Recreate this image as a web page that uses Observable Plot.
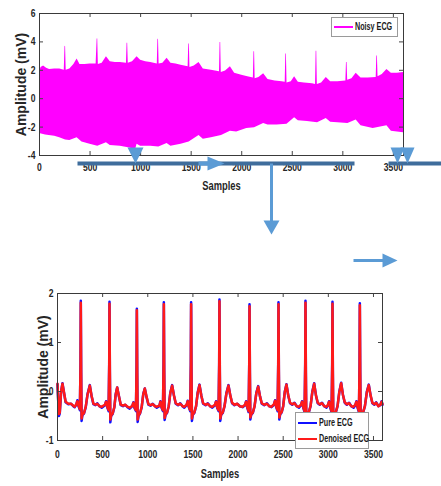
<!DOCTYPE html>
<html><head><meta charset="utf-8">
<script src="https://cdn.jsdelivr.net/npm/d3@7"></script>
<script src="https://cdn.jsdelivr.net/npm/@observablehq/plot@0.6"></script>
<style>
body{margin:0;background:#fff;}
#page{position:relative;width:441px;height:486px;overflow:hidden;background:#fff;}
#page svg{position:absolute;left:0;}
.lg{position:absolute;background:#fff;border:1px solid #9a9a9a;font:bold 10px 'Liberation Sans',Arial,sans-serif;color:#1a1a1a;box-sizing:border-box;}
.lg div{position:absolute;left:2px;height:16px;line-height:16px;white-space:nowrap;}
.lg span.ln{display:inline-block;width:19px;height:2px;vertical-align:middle;margin-right:2px;}
.lg span.tx{display:inline-block;transform:scaleX(0.72);transform-origin:left center;}
</style></head><body><div id="page"></div>
<script>
// ---------- tick values ----------
const xTicks = [0,500,1000,1500,2000,2500,3000,3500];
const noisyYTicks = [-4,-2,0,2,4,6];
const ecgYTicks = [-1,0,1,2];

// ---------- Noisy ECG (envelope of the dense trace) ----------
const noisyUpperSamples = [0,15,40,70,100,150,200,245,252,258,264,300,340,372,400,450,500,560,570,576,582,620,662,700,750,800,860,866,872,878,920,965,1000,1050,1100,1165,1171,1177,1183,1220,1262,1300,1350,1400,1470,1476,1482,1488,1530,1578,1620,1700,1780,1786,1792,1798,1840,1888,1930,2000,2060,2115,2121,2127,2133,2170,2217,2260,2330,2400,2430,2436,2442,2448,2490,2523,2560,2620,2700,2730,2736,2742,2748,2790,2836,2880,2950,3030,3036,3042,3048,3090,3132,3180,3250,3330,3336,3342,3348,3390,3436,3480,3540,3600];
const noisyUpper = [1.85,2.2,2.3,2.15,2.05,2.1,2.1,2.0,3.7,3.65,2.0,2.1,2.4,2.8,2.4,2.4,2.45,2.45,4.2,4.2,2.4,2.5,2.95,2.6,2.55,2.55,2.5,3.9,3.9,2.5,2.6,2.95,2.7,2.6,2.55,2.45,4.2,4.15,2.45,2.5,2.85,2.5,2.45,2.35,2.25,3.85,3.85,2.2,2.3,2.55,2.1,2.0,1.9,3.95,3.95,1.85,1.95,2.25,1.8,1.65,1.55,1.45,3.3,3.3,1.4,1.5,1.75,1.35,1.25,1.2,1.15,3.15,3.15,1.1,1.2,1.55,1.15,1.1,1.05,1.0,3.35,3.35,1.0,1.1,1.5,1.2,1.2,1.25,2.55,2.55,1.3,1.4,1.8,1.45,1.45,1.5,3.0,3.0,1.55,1.7,2.05,1.8,1.8,1.85];
const noisyLowerSamples = [0,60,150,200,258,300,372,420,500,576,662,700,800,880,930,950,965,1000,1100,1180,1262,1300,1400,1480,1578,1620,1700,1800,1888,1950,2050,2127,2217,2260,2350,2448,2523,2560,2650,2750,2836,2880,2950,3050,3132,3180,3300,3436,3480,3600];
const noisyLower = [-2.45,-2.55,-2.65,-2.75,-2.9,-2.95,-2.75,-3.05,-3.2,-3.35,-3.1,-3.3,-3.35,-3.45,-3.55,-3.6,-3.2,-3.35,-3.35,-3.4,-3.15,-3.35,-3.2,-3.05,-2.6,-2.85,-2.75,-2.6,-2.3,-2.35,-2.1,-2.05,-1.75,-1.85,-1.85,-1.8,-1.35,-1.55,-1.6,-1.7,-1.4,-1.65,-1.7,-1.75,-1.5,-1.9,-2.1,-1.9,-2.3,-2.4];

// ---------- Pure vs denoised ECG (one row per beat) ----------
const ecgSamples = [
 [0,8,15,25,40,55,70,90,120,150,175,190],
 [208,220,233,248,255,258,262,267,276,293,313,333,358,378,398,420,440,465,490],
 [526,538,551,566,573,576,580,585,594,611,630,645,661,681,701,725,750,775,800],
 [829,841,854,869,876,879,883,888,897,914,933,950,967,987,1007,1030,1055,1080,1100],
 [1128,1140,1153,1168,1175,1178,1182,1187,1196,1213,1232,1250,1270,1290,1310,1335,1360,1385,1405],
 [1430,1442,1455,1470,1477,1480,1484,1489,1498,1515,1535,1553,1573,1593,1613,1640,1665,1690,1715],
 [1744,1756,1769,1784,1791,1794,1798,1803,1812,1830,1850,1872,1894,1914,1934,1960,1990,2020,2050],
 [2077,2089,2102,2117,2124,2127,2131,2136,2145,2163,2183,2203,2223,2243,2263,2290,2320,2345,2370],
 [2398,2410,2423,2438,2445,2448,2452,2457,2466,2483,2500,2518,2536,2556,2576,2600,2625,2650,2675],
 [2697,2709,2722,2737,2744,2747,2751,2756,2765,2783,2803,2823,2843,2863,2883,2905,2930,2955,2980],
 [2996,3008,3021,3036,3043,3046,3050,3055,3064,3082,3102,3122,3142,3162,3182,3205,3230,3255,3280],
 [3299,3311,3324,3339,3346,3349,3353,3358,3367,3385,3405,3427,3448,3468,3488,3510,3530,3555,3575],
 [3590,3600]
];
const pureECG = [
 [0.15,-0.2,-0.5,-0.45,0.0,0.17,0.0,-0.22,-0.26,-0.25,-0.3,-0.32],
 [-0.27,-0.18,-0.3,-0.38,0.6,1.85,0.4,-0.6,-0.48,-0.45,-0.32,-0.05,0.13,-0.1,-0.26,-0.28,-0.24,-0.3,-0.33],
 [-0.28,-0.2,-0.32,-0.4,0.6,1.83,0.4,-0.63,-0.5,-0.46,-0.32,-0.05,0.08,-0.1,-0.28,-0.3,-0.27,-0.32,-0.35],
 [-0.3,-0.22,-0.34,-0.4,0.55,1.69,0.35,-0.62,-0.5,-0.45,-0.32,-0.05,0.06,-0.12,-0.27,-0.29,-0.25,-0.3,-0.33],
 [-0.3,-0.2,-0.33,-0.4,0.6,1.82,0.4,-0.58,-0.48,-0.44,-0.3,-0.02,0.13,-0.08,-0.25,-0.28,-0.24,-0.3,-0.33],
 [-0.28,-0.19,-0.32,-0.4,0.6,1.82,0.4,-0.6,-0.48,-0.44,-0.3,-0.02,0.14,-0.08,-0.25,-0.28,-0.24,-0.3,-0.33],
 [-0.28,-0.2,-0.33,-0.4,0.6,1.88,0.4,-0.6,-0.48,-0.44,-0.3,-0.02,0.13,-0.08,-0.24,-0.28,-0.25,-0.3,-0.32],
 [-0.28,-0.2,-0.33,-0.42,0.6,1.78,0.4,-0.57,-0.48,-0.44,-0.3,-0.02,0.11,-0.1,-0.25,-0.28,-0.24,-0.3,-0.32],
 [-0.27,-0.18,-0.32,-0.4,0.6,1.82,0.4,-0.57,-0.47,-0.43,-0.3,0.0,0.15,-0.08,-0.24,-0.27,-0.23,-0.3,-0.33],
 [-0.28,-0.2,-0.33,-0.42,0.6,1.85,0.4,-0.58,-0.47,-0.43,-0.3,0.0,0.17,-0.08,-0.24,-0.27,-0.23,-0.3,-0.33],
 [-0.28,-0.2,-0.33,-0.42,0.6,1.83,0.4,-0.58,-0.47,-0.43,-0.3,0.0,0.18,-0.07,-0.23,-0.27,-0.23,-0.3,-0.33],
 [-0.28,-0.2,-0.33,-0.42,0.6,1.8,0.4,-0.58,-0.47,-0.43,-0.3,0.0,0.14,-0.08,-0.24,-0.27,-0.22,-0.3,-0.28],
 [-0.2,-0.27]
];
const denoisedECG = [
 [0.16,-0.18,-0.46,-0.43,0.0,0.16,0.0,-0.21,-0.25,-0.25,-0.29,-0.31],
 [-0.26,-0.2,-0.29,-0.36,0.55,1.81,0.45,-0.55,-0.47,-0.44,-0.31,-0.06,0.12,-0.09,-0.25,-0.27,-0.25,-0.3,-0.31],
 [-0.27,-0.21,-0.31,-0.38,0.55,1.79,0.45,-0.57,-0.49,-0.45,-0.31,-0.06,0.08,-0.1,-0.27,-0.29,-0.27,-0.31,-0.33],
 [-0.29,-0.23,-0.33,-0.38,0.5,1.66,0.4,-0.57,-0.49,-0.44,-0.31,-0.06,0.06,-0.11,-0.26,-0.28,-0.26,-0.3,-0.31],
 [-0.29,-0.21,-0.32,-0.38,0.55,1.78,0.45,-0.54,-0.47,-0.43,-0.3,-0.03,0.12,-0.08,-0.24,-0.27,-0.25,-0.3,-0.31],
 [-0.27,-0.2,-0.31,-0.38,0.55,1.78,0.45,-0.55,-0.47,-0.43,-0.3,-0.03,0.13,-0.08,-0.24,-0.27,-0.25,-0.3,-0.31],
 [-0.27,-0.21,-0.32,-0.38,0.55,1.84,0.45,-0.55,-0.47,-0.43,-0.3,-0.03,0.12,-0.08,-0.23,-0.27,-0.25,-0.3,-0.31],
 [-0.27,-0.21,-0.32,-0.4,0.55,1.74,0.45,-0.53,-0.47,-0.43,-0.3,-0.03,0.1,-0.1,-0.24,-0.27,-0.25,-0.3,-0.31],
 [-0.26,-0.19,-0.31,-0.38,0.55,1.78,0.45,-0.53,-0.46,-0.42,-0.3,-0.01,0.14,-0.08,-0.23,-0.26,-0.24,-0.3,-0.31],
 [-0.27,-0.21,-0.32,-0.4,0.55,1.81,0.45,-0.54,-0.46,-0.42,-0.3,-0.01,0.16,-0.08,-0.23,-0.26,-0.24,-0.3,-0.31],
 [-0.27,-0.21,-0.32,-0.4,0.55,1.79,0.45,-0.54,-0.46,-0.42,-0.3,-0.01,0.17,-0.07,-0.22,-0.26,-0.24,-0.3,-0.31],
 [-0.27,-0.21,-0.32,-0.4,0.55,1.76,0.45,-0.54,-0.46,-0.42,-0.3,-0.01,0.13,-0.08,-0.23,-0.26,-0.23,-0.3,-0.27],
 [-0.21,-0.26]
];

// ---------- annotation arrows (page pixel space) ----------
const arrowLines = [
 {x1:77,y1:163,x2:354,y2:163,c:"dark",w:4},
 {x1:388,y1:163,x2:441,y2:163,c:"dark",w:4},
 {x1:198,y1:163,x2:210,y2:163,c:"light",w:4},
 {x1:271,y1:163,x2:271,y2:221,c:"light",w:3},
 {x1:353,y1:260,x2:383,y2:260,c:"light",w:3}
];
const arrowHeads = [
 {id:1,pts:[[127,147],[143,147],[135,163]]},
 {id:2,pts:[[207,156],[207,170],[224,163]]},
 {id:3,pts:[[263,220],[279,220],[271,234]]},
 {id:4,pts:[[390,147],[404,147],[397,163]]},
 {id:5,pts:[[400,147],[414,147],[407,163]]},
 {id:6,pts:[[382,253],[382,267],[397,260]]}
];

// ---------- build tables ----------
const upperRows = noisyUpperSamples.map((s,i)=>({s, v:noisyUpper[i]}));
const lowerRows = noisyLowerSamples.map((s,i)=>({s, v:noisyLower[i]}));
const flatS = ecgSamples.flat(), flatP = pureECG.flat(), flatD = denoisedECG.flat();
const ecgRows = flatS.map((s,i)=>({s, pure:flatP[i], den:flatD[i]}));
const headRows = arrowHeads.flatMap(h=>h.pts.map(p=>({id:h.id,x:p[0],y:p[1]})));
const arrowColor = {dark:"#3f6d9c", light:"#5b9bd5"};

const FONT = "'Liberation Sans',Arial,sans-serif";
const INK = "#262626";
const baseStyle = {fontFamily:FONT, fontWeight:"bold", fontSize:"11px", color:INK, background:"transparent", overflow:"visible"};
const pageEl = document.getElementById("page");
const fmt = d => String(d);

function frameAxes(ml, mr, mt, mb, w, h, yTicks, padX, samplesDy, ampDx){
  const fw = w-ml-mr, fh = h-mt-mb;
  return [
    Plot.tickX(xTicks, {x:d=>d, insetTop:fh-4, stroke:"#444"}),
    Plot.tickX(xTicks, {x:d=>d, insetBottom:fh-4, stroke:"#444"}),
    Plot.tickY(yTicks, {y:d=>d, insetRight:fw-4, stroke:"#444"}),
    Plot.tickY(yTicks, {y:d=>d, insetLeft:fw-4, stroke:"#444"}),
    Plot.axisX({ticks:xTicks, tickSize:0, tickPadding:padX, tickFormat:fmt, label:null}),
    Plot.axisY({ticks:yTicks, tickSize:0, tickPadding:4, tickFormat:fmt, label:null}),
    Plot.frame({stroke:"#3a3a3a"}),
    Plot.text(["Samples"], {frameAnchor:"bottom", dy:samplesDy, fontSize:12, fontWeight:"bold", fill:INK, className:"squeeze"}),
    Plot.text(["Amplitude (mV)"], {frameAnchor:"left", textAnchor:"middle", dx:ampDx, rotate:-90, fontSize:14, fontWeight:"bold", fill:INK})
  ];
}

// condense the tick labels and x title like the narrow original lettering
function squeeze(svg, sx){
  svg.querySelectorAll('g[aria-label="x-axis tick label"] text, g[aria-label="y-axis tick label"] text, g.squeeze text').forEach(t=>{
    const tr = t.getAttribute("transform") || "";
    t.setAttribute("transform", tr + ` scale(${sx},1)`);
  });
}

// ----- upper chart: noisy ECG -----
const noisyChart = Plot.plot({
  width:441, height:200, marginLeft:39, marginRight:38, marginTop:13, marginBottom:45,
  style:baseStyle,
  x:{domain:[0,3600], label:null},
  y:{domain:[-4,6], label:null},
  marks:[
    Plot.areaY(upperRows, {x:"s", y1:-0.5, y2:"v", fill:"#ff00ff", curve:"linear"}),
    Plot.areaY(lowerRows, {x:"s", y1:"v", y2:0.5, fill:"#ff00ff", curve:"linear"}),
    ...frameAxes(39,38,13,45,441,200,noisyYTicks,8,34,-18)
  ]
});
squeeze(noisyChart, 0.78);
noisyChart.style.top = "0px";
pageEl.appendChild(noisyChart);

// ----- lower chart: pure vs denoised -----
const ecgChart = Plot.plot({
  width:441, height:206, marginLeft:57, marginRight:59, marginTop:13, marginBottom:46,
  style:baseStyle,
  x:{domain:[0,3600], label:null},
  y:{domain:[-1,2], label:null},
  marks:[
    Plot.line(ecgRows, {x:"s", y:"pure", stroke:"#1010ff", strokeWidth:2.5, curve:"linear"}),
    Plot.line(ecgRows, {x:"s", y:"den", stroke:"#ff1a1a", strokeWidth:2.5, curve:"linear"}),
    ...frameAxes(57,59,13,46,441,206,ecgYTicks,10,37,-14)
  ]
});
squeeze(ecgChart, 0.78);
ecgChart.style.top = "280px";
pageEl.appendChild(ecgChart);

// ----- legends -----
function legend(left, topPx, w, h, items){
  const d = document.createElement("div");
  d.className = "lg";
  Object.assign(d.style, {left:left+"px", top:topPx+"px", width:w+"px", height:h+"px"});
  items.forEach(it=>{
    const r = document.createElement("div");
    r.style.top = it.top+"px";
    r.innerHTML = `<span class="ln" style="background:${it.color}"></span><span class="tx">${it.label}</span>`;
    d.appendChild(r);
  });
  pageEl.appendChild(d);
}
legend(331,17,67,20,[{label:"Noisy ECG", color:"#ff00ff", top:1}]);
legend(295,412,74,37,[{label:"Pure ECG", color:"#1010ff", top:2},{label:"Denoised ECG", color:"#ff1a1a", top:18}]);

// ----- overlay arrows -----
const overlay = Plot.plot({
  width:441, height:486, margin:0,
  style:{background:"transparent", overflow:"visible"},
  x:{type:"identity", axis:null}, y:{type:"identity", axis:null},
  marks:[
    Plot.link(arrowLines, {x1:"x1", y1:"y1", x2:"x2", y2:"y2", stroke:d=>arrowColor[d.c], strokeWidth:d=>d.w}),
    Plot.line(headRows, {x:"x", y:"y", z:"id", fill:arrowColor.light, stroke:"none", curve:"linear-closed"})
  ]
});
overlay.style.top = "0px";
overlay.style.pointerEvents = "none";
pageEl.appendChild(overlay);
</script></body></html>
